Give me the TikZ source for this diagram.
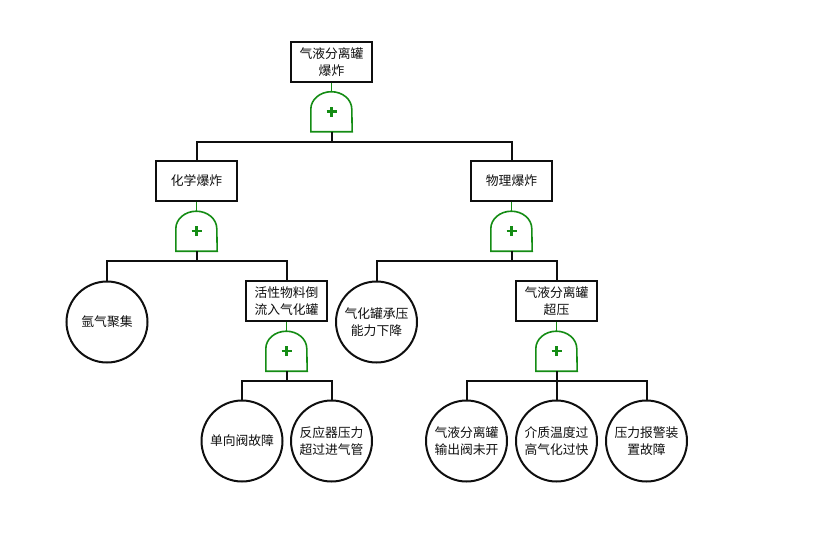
\documentclass[tikz,border=0pt]{standalone}
\usepackage{fontspec}
\newfontfamily\cjk{Noto Sans CJK SC}
\definecolor{gatec}{RGB}{20,140,20}
\definecolor{linec}{RGB}{15,15,15}
\begin{document}
\begin{tikzpicture}[x=1pt,y=-1pt,
  every node/.style={font=\cjk\fontsize{12.8}{16.5}\selectfont, align=center, text=linec},
  evbox/.style={draw=linec, line width=2pt, minimum width=81pt, minimum height=40pt, inner sep=1pt, fill=white},
  basic/.style={draw=linec, line width=2pt, circle, minimum size=81pt, inner sep=0pt},
  gatebox/.style={minimum width=41pt, minimum height=40pt, inner sep=0pt},
  gateline/.style={draw=gatec, line width=1.6pt},
  plusline/.style={draw=gatec, line width=2.2pt},
  conn/.style={draw=linec, line width=2pt},
]
\useasboundingbox (0,0) rectangle (838,539);

% events
\node[evbox] (top) at (331.5,62) {气液分离罐\\爆炸};
\node[evbox] (chem) at (196.5,181) {化学爆炸};
\node[evbox] (phys) at (511.5,181) {物理爆炸};
\node[evbox] (back) at (286.5,301) {活性物料倒\\流入气化罐};
\node[evbox] (over) at (556.5,301) {气液分离罐\\超压};

% basic events
\node[basic] (ar) at (107,322) {氩气聚集};
\node[basic] (cap) at (376.5,322) {气化罐承压\\能力下降};
\node[basic] (valve) at (242,441) {单向阀故障};
\node[basic] (react) at (331.5,441) {反应器压力\\超过进气管};
\node[basic] (outv) at (466.5,441) {气液分离罐\\输出阀未开};
\node[basic] (temp) at (556.5,441) {介质温度过\\高气化过快};
\node[basic] (alarm) at (646.5,441) {压力报警装\\置故障};

% gates
\node[gatebox] (g1) at (331.5,111.5) {};
\node[gatebox] (g2) at (196.5,231) {};
\node[gatebox] (g3) at (511.5,231) {};
\node[gatebox] (g4) at (286.5,351) {};
\node[gatebox] (g5) at (556.5,351) {};

\foreach \g in {g1,g2,g3,g4,g5}{
  \draw[gateline] (\g.south west) -- ([yshift=22.5pt]\g.south west)
     arc[start angle=180,end angle=0,x radius=20.5pt,y radius=17.5pt]
     -- (\g.south east) -- cycle;
  \draw[plusline] ([xshift=-5pt]\g.center) -- ([xshift=5pt]\g.center);
  \draw[plusline] ([yshift=-5pt]\g.center) -- ([yshift=5pt]\g.center);
}

% event to gate
\draw[gateline] (top.south) -- (g1.north);
\draw[gateline] (chem.south) -- (g2.north);
\draw[gateline] (phys.south) -- (g3.north);
\draw[gateline] (back.south) -- (g4.north);
\draw[gateline] (over.south) -- (g5.north);

% gate to children
\draw[conn] (g1.south) -- ++(0,10) -| (chem.north);
\draw[conn] (g1.south) -- ++(0,10) -| (phys.north);
\draw[conn] (g2.south) -- ++(0,10) -| (ar.north);
\draw[conn] (g2.south) -- ++(0,10) -| (back.north);
\draw[conn] (g3.south) -- ++(0,10) -| (cap.north);
\draw[conn] (g3.south) -- ++(0,10) -| (over.north);
\draw[conn] (g4.south) -- ++(0,10) -| (valve.north);
\draw[conn] (g4.south) -- ++(0,10) -| (react.north);
\draw[conn] (g5.south) -- ++(0,10) -| (outv.north);
\draw[conn] (g5.south) -- ++(0,10) -| (temp.north);
\draw[conn] (g5.south) -- ++(0,10) -| (alarm.north);
\end{tikzpicture}
\end{document}
